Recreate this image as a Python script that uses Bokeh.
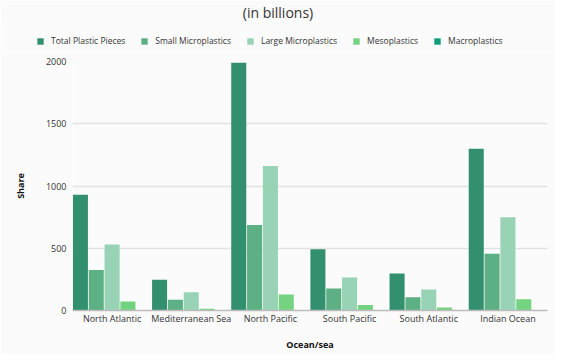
from bokeh.plotting import figure
from bokeh.models import ColumnDataSource, Legend, LegendItem, FactorRange
from bokeh.layouts import column
from bokeh.transform import dodge
from bokeh.embed import file_html
from bokeh.resources import INLINE

regions = ["North Atlantic", "Mediterranean Sea", "North Pacific", "South Pacific", "South Atlantic", "Indian Ocean"]
total_plastic = [930, 247, 1990, 491, 297, 1300]
small_micro = [325, 86, 687, 176, 106, 455]
large_micro = [530, 146, 1160, 266, 168, 750]
meso = [73, 14, 128, 45, 24, 91]
macro = [1.3, 0.3, 2.0, 0.9, 0.4, 1.2]

series = ["Total Plastic Pieces", "Small Microplastics", "Large Microplastics", "Mesoplastics", "Macroplastics"]
colors = ["#33906e", "#5db083", "#97d3b4", "#74d381", "#0e9e7a"]
cols = ["total", "small", "large", "meso", "macro"]
offsets = [-0.4, -0.2, 0.0, 0.2, 0.4]

src = ColumnDataSource(dict(region=regions, total=total_plastic, small=small_micro,
                            large=large_micro, meso=meso, macro=macro))

FONT = "Open Sans"
BG = "#fbfbfb"

# ---- header: title + legend ----
h = figure(x_range=FactorRange(*regions), y_range=(1e7, 1e7 + 1), width=555, height=51,
           output_backend="svg", toolbar_location=None,
           x_axis_location=None, y_axis_location=None,
           min_border_left=0, min_border_right=0, min_border_bottom=0, min_border_top=0)
try:
    h.frame_align = False
except Exception:
    pass
h.background_fill_color = BG
h.border_fill_color = BG
h.outline_line_color = None
h.grid.grid_line_color = None
h.title.text = "(in billions)"
h.title.align = "center"
h.title.text_font = FONT
h.title.text_font_size = "14px"
h.title.text_font_style = "normal"
h.title.text_color = "#333333"
h.title.standoff = 0
h.title.text_line_height = 0.9

hr = []
for c, off, col in zip(cols, offsets, colors):
    r = h.vbar(x=dodge("region", off, range=h.x_range), top=c, bottom=0, width=0.19, source=src,
               fill_color=col, line_color=None)
    hr.append(r)

legend = Legend(items=[LegendItem(label=s, renderers=[r]) for s, r in zip(series, hr)],
                orientation="horizontal", location=(36, 5))
legend.label_text_font = FONT
legend.label_text_font_size = "8.5px"
legend.label_text_color = "#333333"
legend.glyph_width = 8
legend.glyph_height = 8
legend.label_standoff = 7
legend.spacing = 15
legend.padding = 4
legend.margin = 0
legend.border_line_color = None
legend.background_fill_alpha = 0
h.add_layout(legend, "center")

# ---- main chart ----
p = figure(x_range=FactorRange(*regions), y_range=(0, 2000), width=555, height=303,
           output_backend="svg", toolbar_location=None,
           min_border_left=72, min_border_right=8, min_border_bottom=44, min_border_top=10)
p.background_fill_color = BG
p.border_fill_color = BG
p.outline_line_color = None

for c, off, col in zip(cols, offsets, colors):
    p.vbar(x=dodge("region", off, range=p.x_range), top=c, width=0.19, source=src,
           fill_color=col, line_color=None)

p.xaxis.axis_label = "Ocean/sea"
p.yaxis.axis_label = "Share"
for ax in (p.xaxis, p.yaxis):
    ax.axis_label_text_font = FONT
    ax.axis_label_text_font_size = "9px"
    ax.axis_label_text_font_style = "bold"
    ax.axis_label_text_color = "#111111"
    ax.major_label_text_font = FONT
    ax.major_label_text_font_size = "9px"
    ax.major_label_text_color = "#333333"
    ax.major_tick_line_color = None
    ax.minor_tick_line_color = None
    ax.major_tick_out = 0
    ax.major_tick_in = 0
    ax.minor_tick_out = 0
    ax.minor_tick_in = 0
p.xaxis.major_label_standoff = 1
p.yaxis.major_label_standoff = 6
p.xaxis.axis_line_color = "#bbbbbb"
p.xaxis.axis_line_width = 1.5
p.xaxis.axis_label_standoff = 10
p.yaxis.axis_line_color = None
p.yaxis.axis_label_standoff = 16
p.yaxis.ticker = [0, 500, 1000, 1500, 2000]
p.xgrid.grid_line_color = None
p.ygrid.grid_line_color = "#e2e2e2"
p.ygrid.grid_line_width = 1.5
p.x_range.range_padding = 0.0

layout = column(h, p, spacing=0)
open("out.html", "w").write(file_html(layout, INLINE))
